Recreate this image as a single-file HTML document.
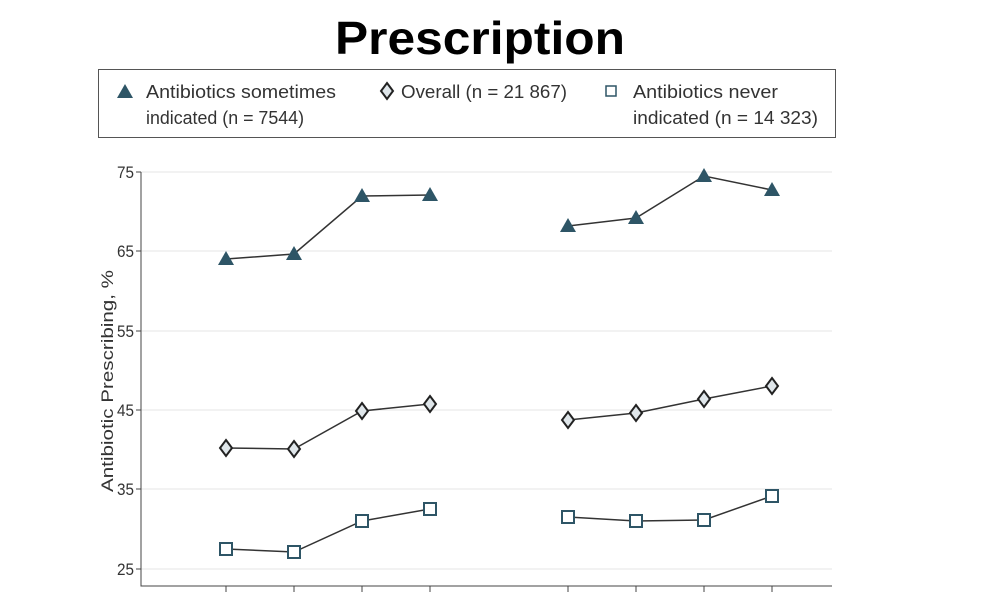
<!DOCTYPE html>
<html><head><style>
body{margin:0;background:#fff;}
svg text{font-family:"Liberation Sans",sans-serif;}
</style></head><body>
<svg width="1000" height="600" viewBox="0 0 1000 600">
<text x="335" y="54" font-size="46" font-weight="bold" fill="#000" textLength="290" lengthAdjust="spacingAndGlyphs">Prescription</text>
<rect x="98.5" y="69.5" width="737" height="68" fill="#fff" stroke="#555" stroke-width="1"/>
<g font-size="18" fill="#333">
<polygon points="125,84 133,98 117,98" fill="#2e5566"/>
<text x="146" y="98" textLength="190" lengthAdjust="spacingAndGlyphs">Antibiotics sometimes</text>
<text x="146" y="124" textLength="158" lengthAdjust="spacingAndGlyphs">indicated (n = 7544)</text>
<polygon points="387,83 393,91 387,99 381,91" fill="#dfe6ea" stroke="#222" stroke-width="2"/>
<text x="401" y="98" textLength="166" lengthAdjust="spacingAndGlyphs">Overall (n = 21 867)</text>
<rect x="606" y="86" width="10" height="10" fill="#fff" stroke="#2e5566" stroke-width="1.5"/>
<text x="633" y="98" textLength="145" lengthAdjust="spacingAndGlyphs">Antibiotics never</text>
<text x="633" y="124" textLength="185" lengthAdjust="spacingAndGlyphs">indicated (n = 14 323)</text>
</g>
<g stroke="#e6e6e6" stroke-width="1">
<line x1="141" y1="172" x2="832" y2="172"/><line x1="141" y1="251" x2="832" y2="251"/>
<line x1="141" y1="331" x2="832" y2="331"/><line x1="141" y1="410" x2="832" y2="410"/>
<line x1="141" y1="489" x2="832" y2="489"/><line x1="141" y1="569" x2="832" y2="569"/>
</g>
<g stroke="#444" stroke-width="1" fill="none">
<polyline points="141,172 141,586 832,586"/>
<line x1="136" y1="172" x2="141" y2="172"/><line x1="136" y1="251" x2="141" y2="251"/>
<line x1="136" y1="331" x2="141" y2="331"/><line x1="136" y1="410" x2="141" y2="410"/>
<line x1="136" y1="489" x2="141" y2="489"/><line x1="136" y1="569" x2="141" y2="569"/>
<line x1="226" y1="586" x2="226" y2="592"/><line x1="294" y1="586" x2="294" y2="592"/>
<line x1="362" y1="586" x2="362" y2="592"/><line x1="430" y1="586" x2="430" y2="592"/>
<line x1="568" y1="586" x2="568" y2="592"/><line x1="636" y1="586" x2="636" y2="592"/>
<line x1="704" y1="586" x2="704" y2="592"/><line x1="772" y1="586" x2="772" y2="592"/>
</g>
<g font-size="17" fill="#333">
<text x="117" y="178" textLength="17" lengthAdjust="spacingAndGlyphs">75</text>
<text x="117" y="257" textLength="17" lengthAdjust="spacingAndGlyphs">65</text>
<text x="117" y="337" textLength="17" lengthAdjust="spacingAndGlyphs">55</text>
<text x="117" y="416" textLength="17" lengthAdjust="spacingAndGlyphs">45</text>
<text x="117" y="495" textLength="17" lengthAdjust="spacingAndGlyphs">35</text>
<text x="117" y="575" textLength="17" lengthAdjust="spacingAndGlyphs">25</text>
</g>
<text transform="translate(113,492) rotate(-90)" font-size="17" fill="#333" textLength="222" lengthAdjust="spacingAndGlyphs">Antibiotic Prescribing, %</text>
<g stroke="#333" stroke-width="1.5" fill="none">
<polyline points="226,259 294,254 362,196 430,195"/><polyline points="568,226 636,218 704,176 772,190"/>
<polyline points="226,448 294,449 362,411 430,404"/><polyline points="568,420 636,413 704,399 772,386"/>
<polyline points="226,549 294,552 362,521 430,509"/><polyline points="568,517 636,521 704,520 772,496"/>
</g>
<g fill="#2e5566">
<polygon points="226,251 234,265 218,265"/><polygon points="294,246 302,260 286,260"/>
<polygon points="362,188 370,202 354,202"/><polygon points="430,187 438,201 422,201"/>
<polygon points="568,218 576,232 560,232"/><polygon points="636,210 644,224 628,224"/>
<polygon points="704,168 712,182 696,182"/><polygon points="772,182 780,196 764,196"/>
</g>
<g fill="#dfe6ea" stroke="#222" stroke-width="2">
<polygon points="226,440 232,448 226,456 220,448"/><polygon points="294,441 300,449 294,457 288,449"/>
<polygon points="362,403 368,411 362,419 356,411"/><polygon points="430,396 436,404 430,412 424,404"/>
<polygon points="568,412 574,420 568,428 562,420"/><polygon points="636,405 642,413 636,421 630,413"/>
<polygon points="704,391 710,399 704,407 698,399"/><polygon points="772,378 778,386 772,394 766,386"/>
</g>
<g fill="#fff" stroke="#2e5566" stroke-width="2">
<rect x="220" y="543" width="12" height="12"/><rect x="288" y="546" width="12" height="12"/>
<rect x="356" y="515" width="12" height="12"/><rect x="424" y="503" width="12" height="12"/>
<rect x="562" y="511" width="12" height="12"/><rect x="630" y="515" width="12" height="12"/>
<rect x="698" y="514" width="12" height="12"/><rect x="766" y="490" width="12" height="12"/>
</g>
</svg>
</body></html>
